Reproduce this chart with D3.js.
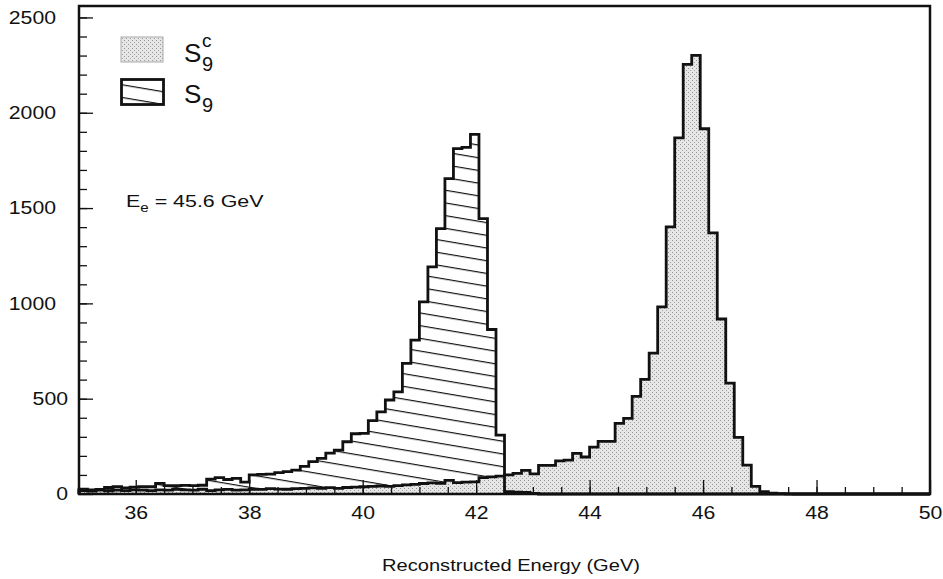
<!DOCTYPE html>
<html>
<head>
<meta charset="utf-8">
<script src="https://cdn.jsdelivr.net/npm/d3@7"></script>
<style>
  body { margin: 0; background: #fff; }
  svg { display: block; }
  text { font-family: "Liberation Sans", Arial, Helvetica, sans-serif; fill: #111; }
</style>
</head>
<body>
<svg id="chart" width="943" height="579"></svg>
<script>
// Histogram binning: 100 bins of 0.15 GeV from 35 to 50 GeV
const binStart = 35;
const binWidth = 0.15;

// S9 (hatched): counts per bin
const s9Counts = [
  25, 22, 24, 34, 38, 32, 36, 38, 38, 56,
  44, 44, 45, 44, 46, 78, 86, 76, 82, 62,
  100, 103, 104, 112, 117, 125, 145, 170, 187, 214,
  230, 274, 316, 318, 385, 431, 493, 536, 685, 807,
  1008, 1191, 1392, 1654, 1812, 1818, 1887, 1445, 863, 309,
  12, 10, 8, 3, 0, 0, 0, 0, 0, 0,
  0, 0, 0, 0, 0, 0, 0, 0, 0, 0,
  0, 0, 0, 0, 0, 0, 0, 0, 0, 0,
  0, 0, 0, 0, 0, 0, 0, 0, 0, 0,
  0, 0, 0, 0, 0, 0, 0, 0, 0, 0
];

// S9^c (stippled): counts per bin
const s9cCounts = [
  18, 15, 20, 17, 20, 18, 22, 20, 18, 22,
  20, 24, 22, 20, 25, 18, 22, 24, 20, 22,
  25, 24, 28, 26, 25, 28, 30, 32, 30, 33,
  30, 34, 36, 38, 40, 42, 40, 44, 48, 50,
  55, 58, 56, 72, 60, 62, 64, 86, 90, 94,
  100, 108, 124, 106, 150, 150, 174, 178, 213, 194,
  246, 276, 276, 370, 397, 512, 601, 739, 982, 1401,
  1868, 2254, 2301, 1916, 1370, 918, 582, 297, 152, 40,
  12, 4, 2, 1, 0, 0, 0, 0, 0, 0,
  0, 0, 0, 0, 0, 0, 0, 0, 0, 0
];

const xTickLabels = [36, 38, 40, 42, 44, 46, 48, 50];
const yTickLabels = [0, 500, 1000, 1500, 2000, 2500];
const xTitle = "Reconstructed Energy (GeV)";
const beamLabel = { main: "E", sub: "e", rest: " = 45.6 GeV" };

const svg = d3.select("#chart");

const x = d3.scaleLinear().domain([35, 50]).range([79, 930]);
const y = d3.scaleLinear().domain([0, 2560]).range([494, 6]);

// ---- fill patterns ----
const defs = svg.append("defs");

// diagonal hatching for S9
const hatch = defs.append("pattern")
  .attr("id", "hatch")
  .attr("patternUnits", "userSpaceOnUse")
  .attr("width", 40).attr("height", 12.7)
  .attr("patternTransform", "skewY(9.6)");
hatch.append("line")
  .attr("x1", -5).attr("x2", 45).attr("y1", 0.6).attr("y2", 0.6)
  .attr("stroke", "#111").attr("stroke-width", 1.1);

// fine stipple for S9^c
const stip = defs.append("pattern")
  .attr("id", "stipple")
  .attr("patternUnits", "userSpaceOnUse")
  .attr("width", 4).attr("height", 4);
stip.append("rect").attr("width", 4).attr("height", 4).attr("fill", "#e6e6e6");
stip.append("rect").attr("x", 0).attr("y", 0).attr("width", 1).attr("height", 1).attr("fill", "#939393");
stip.append("rect").attr("x", 2).attr("y", 2).attr("width", 1).attr("height", 1).attr("fill", "#a3a3a3");

// ---- histogram geometry ----
function stepPoints(counts) {
  const pts = [[binStart, 0]];
  counts.forEach((c, i) => {
    const x0 = binStart + i * binWidth;
    pts.push([x0, c], [x0 + binWidth, c]);
  });
  pts.push([binStart + counts.length * binWidth, 0]);
  return pts;
}

const area = d3.area().x(d => x(d[0])).y0(y(0)).y1(d => y(d[1]));
const line = d3.line().x(d => x(d[0])).y(d => y(d[1]));

const s9Pts = stepPoints(s9Counts);
const s9cPts = stepPoints(s9cCounts);

const plot = svg.append("g");
plot.append("path").attr("d", area(s9Pts)).attr("fill", "url(#hatch)");
plot.append("path").attr("d", area(s9cPts)).attr("fill", "url(#stipple)");
plot.append("path").attr("d", line(s9cPts))
  .attr("fill", "none").attr("stroke", "#111").attr("stroke-width", 2.8)
  .attr("stroke-linejoin", "miter");
plot.append("path").attr("d", line(s9Pts))
  .attr("fill", "none").attr("stroke", "#111").attr("stroke-width", 2.8)
  .attr("stroke-linejoin", "miter");

// ---- axes (ticks point inward) ----
function styleAxis(g) {
  g.select(".domain").remove();
  g.selectAll(".tick line").attr("stroke", "#111").attr("stroke-width", 1.3);
}

svg.append("g").attr("transform", `translate(0,${y(0)})`)
  .call(d3.axisBottom(x).tickValues(d3.range(35.5, 50, 0.5)).tickSize(-7).tickFormat(""))
  .call(styleAxis);
const xAx = svg.append("g").attr("transform", `translate(0,${y(0)})`)
  .call(d3.axisBottom(x).tickValues(xTickLabels).tickSize(-14).tickPadding(12).tickFormat(d3.format("d")))
  .call(styleAxis);
xAx.selectAll(".tick text")
  .attr("font-size", 18).attr("font-family", "Liberation Sans, Arial, sans-serif")
  .attr("fill", "#111").attr("transform", "scale(1.18,1)");

svg.append("g").attr("transform", `translate(${x(35)},0)`)
  .call(d3.axisLeft(y).tickValues(d3.range(100, 2600, 100)).tickSize(-8).tickFormat(""))
  .call(styleAxis);
const yAx = svg.append("g").attr("transform", `translate(${x(35)},0)`)
  .call(d3.axisLeft(y).tickValues(yTickLabels).tickSize(-14).tickFormat(d3.format("d")))
  .call(styleAxis);
// wide labels sit further from the axis than short ones
yAx.selectAll(".tick text")
  .attr("x", 0)
  .attr("font-size", 18).attr("font-family", "Liberation Sans, Arial, sans-serif")
  .attr("fill", "#111")
  .attr("transform", d => `translate(${d >= 1000 ? -23 : -11},0) scale(1.18,1)`);

// frame
svg.append("rect")
  .attr("x", x(35)).attr("y", y(2560))
  .attr("width", x(50) - x(35)).attr("height", y(0) - y(2560))
  .attr("fill", "none").attr("stroke", "#111").attr("stroke-width", 2.5);

// axis title
svg.append("text")
  .attr("x", 511).attr("y", 571)
  .attr("text-anchor", "middle").attr("font-size", 17)
  .attr("textLength", 258).attr("lengthAdjust", "spacingAndGlyphs")
  .text(xTitle);

// ---- legend ----
const legend = svg.append("g");
legend.append("rect").attr("x", 121).attr("y", 37).attr("width", 42).attr("height", 25)
  .attr("fill", "url(#stipple)").attr("stroke", "#aaa").attr("stroke-width", 1);
legend.append("rect").attr("x", 121.5).attr("y", 79.5).attr("width", 42).attr("height", 25)
  .attr("fill", "url(#hatch)").attr("stroke", "#111").attr("stroke-width", 2.8);

legend.append("text").attr("x", 184).attr("y", 61.5).attr("font-size", 26).text("S");
legend.append("text").attr("x", 202).attr("y", 46.5).attr("font-size", 19).text("c");
legend.append("text").attr("x", 202).attr("y", 70.5).attr("font-size", 20).text("9");
legend.append("text").attr("x", 184).attr("y", 103).attr("font-size", 26).text("S");
legend.append("text").attr("x", 202).attr("y", 111.5).attr("font-size", 20).text("9");

// beam energy annotation
const ann = svg.append("text").attr("transform", "translate(126,207) scale(1.26,1)").attr("font-size", 17);
ann.append("tspan").text(beamLabel.main);
ann.append("tspan").attr("font-size", 12).attr("dy", 5).text(beamLabel.sub);
ann.append("tspan").attr("dy", -5).text(beamLabel.rest);
</script>
</body>
</html>
